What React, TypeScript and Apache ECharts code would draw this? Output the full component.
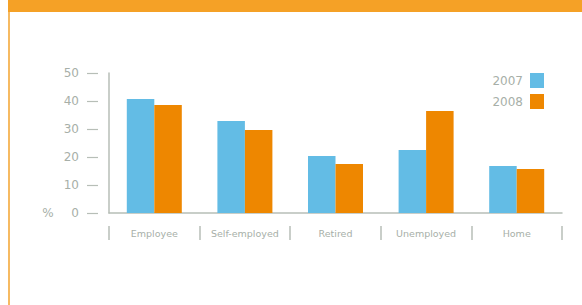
import React, { useEffect, useRef } from "react";
import * as echarts from "echarts";

const categories = ["Employee", "Self-employed", "Retired", "Unemployed", "Home"];
const series2007 = [40.7, 32.9, 20.4, 22.5, 16.8];
const series2008 = [38.6, 29.6, 17.5, 36.4, 15.7];
const seriesNames = ["2007", "2008"];

const BLUE = "#63BCE5";
const ORANGE = "#EE8700";
const GRAY_TEXT = "#a7afa8";
const GRAY_LINE = "#b7beb7";
const FONT = "DejaVu Sans, Liberation Sans, sans-serif";

export default function App() {
  const ref = useRef<HTMLDivElement>(null);
  useEffect(() => {
    const chart = echarts.init(ref.current!, null, { renderer: "svg" });
    chart.setOption({
      animation: false,
      backgroundColor: "#ffffff",
      grid: { left: 109, right: 20, top: 73, bottom: 92 },
      legend: {
        data: seriesNames,
        orient: "vertical",
        right: 38,
        top: 73,
        padding: 0,
        align: "right",
        itemWidth: 14,
        itemHeight: 15,
        itemGap: 6,
        icon: "rect",
        textStyle: { color: GRAY_TEXT, fontSize: 12, fontFamily: FONT, padding: [0, 2, 0, 0] },
      },
      xAxis: [
        {
          type: "category",
          data: categories,
          position: "bottom",
          axisLine: { show: true, onZero: false, lineStyle: { color: GRAY_LINE, width: 1.5 } },
          axisTick: { show: false },
          axisLabel: { show: false },
        },
        {
          type: "category",
          data: categories,
          position: "bottom",
          offset: 13,
          axisLine: { show: false, onZero: false },
          axisTick: { show: true, interval: 0, length: 14, lineStyle: { color: GRAY_LINE, width: 1.5 } },
          axisLabel: { show: true, interval: 0, margin: 2, color: GRAY_TEXT, fontSize: 9.5, fontFamily: FONT },
        },
      ],
      yAxis: [
        {
          type: "value",
          min: 0,
          max: 50,
          interval: 10,
          position: "left",
          axisLine: { show: true, onZero: false, lineStyle: { color: GRAY_LINE, width: 1.5 } },
          axisTick: { show: false },
          axisLabel: { show: false },
          splitLine: { show: false },
        },
        {
          type: "value",
          min: 0,
          max: 50,
          interval: 10,
          position: "left",
          offset: 11,
          axisLine: { show: false, onZero: false },
          axisTick: { show: true, length: 11, lineStyle: { color: GRAY_LINE, width: 1.2 } },
          axisLabel: { show: true, margin: 19, color: GRAY_TEXT, fontSize: 12, fontFamily: FONT },
          splitLine: { show: false },
        },
      ],
      series: [
        {
          name: seriesNames[0],
          type: "bar",
          data: series2007,
          xAxisIndex: 0,
          yAxisIndex: 0,
          barWidth: 27.5,
          barGap: "0%",
          itemStyle: { color: BLUE },
        },
        {
          name: seriesNames[1],
          type: "bar",
          data: series2008,
          xAxisIndex: 0,
          yAxisIndex: 0,
          barWidth: 27.5,
          barGap: "0%",
          itemStyle: { color: ORANGE },
        },
      ],
      graphic: [
        { type: "rect", shape: { x: 8, y: 0, width: 574, height: 12 }, style: { fill: "#F5A126" } },
        { type: "rect", shape: { x: 8, y: 12, width: 2, height: 293 }, style: { fill: "#F6BA62" } },
        {
          type: "text",
          x: 48,
          y: 213,
          style: {
            text: "%",
            fill: GRAY_TEXT,
            fontSize: 12,
            fontFamily: FONT,
            align: "center",
            verticalAlign: "middle",
          },
        },
      ],
    });
    return () => chart.dispose();
  }, []);
  return (
    <div
      ref={ref}
      style={{ position: "absolute", left: 0, top: 0, width: 582, height: 305 }}
    />
  );
}
